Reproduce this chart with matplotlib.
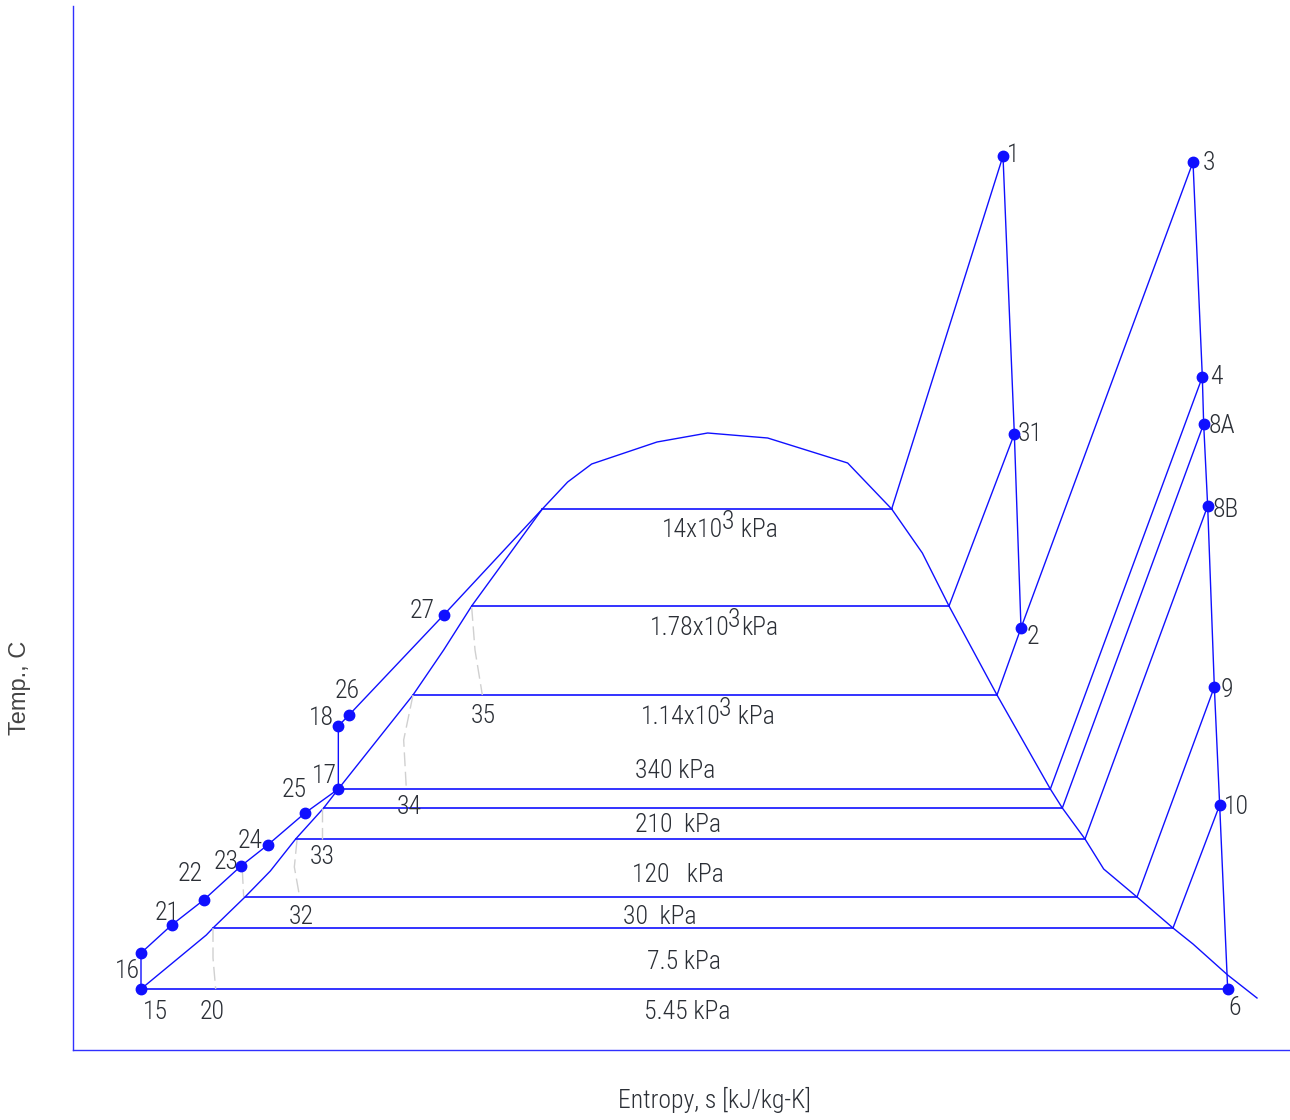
import numpy as np
import matplotlib
matplotlib.use("Agg")
from matplotlib import pyplot as plt
from matplotlib import font_manager

# узкий шрифт для подписей, если есть
names = {f.name for f in font_manager.fontManager.ttflist}
narrow = 'DejaVu Sans'
for cand in ['Roboto Condensed', 'Open Sans Condensed', 'Liberation Sans Narrow']:
    if cand in names:
        narrow = cand
        break

plt.rcParams['font.family'] = [narrow, 'DejaVu Sans']
plt.rcParams['font.weight'] = 'light'

# %%
# линия насыщения (купол), s [kJ/kg-K], T [C]
domeS = [0.51, 1.0, 1.05, 1.29, 1.48, 1.67, 1.88, 1.99, 2.55, 2.78, 2.99, 3.52, 3.71,
         3.89, 4.38, 4.76, 5.21, 5.81, 6.14, 6.37, 6.57, 6.93, 7.33, 7.42, 7.59, 7.73,
         7.98, 8.25, 8.40, 8.66, 8.88]
domeT = [36.6, 69, 73.2, 91.8, 107.4, 126.6, 145.2, 156.6, 213, 240, 266.4, 324.6, 340.8,
         351.6, 364.8, 370.2, 367.2, 352.2, 324.6, 298.2, 266.4, 213, 156.6, 145.2, 126.6, 108.6,
         91.8, 73.2, 63.6, 45, 31.2]

# изобары внутри купола
pT = [324.6, 266.4, 213, 156.6, 145.2, 126.6, 91.8, 73.2, 36.6]
pSf = [3.52, 2.99, 2.55, 1.99, 1.88, 1.67, 1.29, 1.05, 0.51]
pSg = [6.14, 6.57, 6.93, 7.33, 7.42, 7.59, 7.98, 8.25, 8.66]

# подписи высоких давлений: основание, степень, единицы
hiBase = ['14x10', '1.78x10', '1.14x10']
hiExp = ['3', '3', '3']
hiUnit = [' kPa', 'kPa', ' kPa']
hiTextS = [4.42, 4.33, 4.26]
hiTextT = [312, 253.2, 199.8]

loLabels = ['340 kPa', '210  kPa', '120   kPa', '30  kPa', '7.5 kPa', '5.45 kPa']
loTextS = [4.52, 4.54, 4.54, 4.40, 4.58, 4.61]
loTextT = [167.4, 135, 105, 79.8, 52.8, 22.8]

# точки цикла
pts = {
    '1': (6.975, 536.4), '3': (8.40, 532.8), '31': (7.06, 369.6), '2': (7.11, 253.2),
    '4': (8.47, 403.8), '8A': (8.48, 375.6), '8B': (8.51, 326.4), '9': (8.56, 217.8),
    '10': (8.60, 147), '6': (8.66, 36.6), '15': (0.51, 36.6), '16': (0.51, 58.2),
    '21': (0.74, 75), '22': (0.98, 90), '23': (1.26, 110.4), '24': (1.46, 123),
    '25': (1.74, 142.2), '17': (1.99, 156.6), '18': (1.99, 194.4), '26': (2.07, 201),
    '27': (2.78, 261),
}
# сдвиг подписи от точки, пиксели
offs = {
    '1': (10, 1), '3': (16, -1), '31': (16, 0), '2': (12, -9), '4': (14, 0),
    '8A': (18, -2), '8B': (18, -4), '9': (13, -3), '10': (17, -2), '6': (7, -19),
    '15': (14, -23), '16': (-14, -18), '21': (-5, 12), '22': (-14, 26), '23': (-15, 4),
    '24': (-18, 4), '25': (-11, 23), '17': (-14, 13), '18': (-17, 8), '26': (-2, 24),
    '27': (-22, 4),
}

# насосы (изоэнтропное сжатие), серые линии
pumpS = [[2.99, 3.015, 3.07], [2.55, 2.48, 2.50], [1.87, 1.87], [1.68, 1.66, 1.70],
         [1.27, 1.28], [1.05, 1.05, 1.07]]
pumpT = [[265.8, 240, 213], [213, 186, 156.6], [145.2, 126.6], [126, 109.8, 91.8],
         [108, 91.8], [73.2, 55.2, 36.6]]
pumpLabels = ['35', '34', '33', '32', '20']
pumpTextS = [3.08, 2.52, 1.87, 1.71, 1.04]
pumpTextT = [200.4, 145.8, 115.8, 79.8, 22.8]

# %%
fig = plt.figure(figsize=(12.9, 11.2), dpi=100)
ax = fig.add_axes([73/1290, 70/1120, 1217/1290, 1044/1120])
ax.set_xlim(0, 9.1275)
ax.set_ylim(0, 626.4)

blue = '#1010ff'
txt = '#2b2f36'
lw = 1.0
fs = 18.5

ax.plot(domeS, domeT, color=blue, lw=lw)
for T, s1, s2 in zip(pT, pSf, pSg):
    ax.plot([s1, s2], [T, T], color=blue, lw=lw * 1.2)

for b, e, u, s, T in zip(hiBase, hiExp, hiUnit, hiTextS, hiTextT):
    t1 = ax.text(s, T, b, ha='left', va='center', fontsize=fs, color=txt)
    t2 = ax.annotate(e, xy=(1, 1), xycoords=t1, xytext=(-2, 8), textcoords='offset pixels',
                     ha='left', va='top', fontsize=fs, color=txt)
    ax.annotate(u, xy=(1, 0.5), xycoords=(t2, t1), xytext=(1, 0), textcoords='offset pixels',
                ha='left', va='center', fontsize=fs, color=txt)
for lab, s, T in zip(loLabels, loTextS, loTextT):
    ax.text(s, T, lab, ha='center', va='center', fontsize=fs, color=txt)

for ss, tt in zip(pumpS, pumpT):
    ax.plot(ss, tt, color='#d0d0d0', lw=1.0, ls=(0, (10, 4)))
for lab, s, T in zip(pumpLabels, pumpTextS, pumpTextT):
    ax.text(s, T, lab, ha='center', va='center', fontsize=fs, color=txt)


def seg(*keys):
    xs = [pts[k][0] if isinstance(k, str) else k[0] for k in keys]
    ys = [pts[k][1] if isinstance(k, str) else k[1] for k in keys]
    ax.plot(xs, ys, color=blue, lw=lw)


seg('15', '16', '21', '22', '23', '24', '25', '17')
seg('17', '18', '26', '27', (pSf[0], pT[0]))
seg((pSg[0], pT[0]), '1', '31', '2')
seg('31', (pSg[1], pT[1]))
seg('2', (pSg[2], pT[2]))
seg('2', '3', '4', '8A', '8B', '9', '10', '6')
seg('4', (pSg[3], pT[3]))
seg('8A', (pSg[4], pT[4]))
seg('8B', (pSg[5], pT[5]))
seg('9', (pSg[6], pT[6]))
seg('10', (pSg[7], pT[7]))

for k, (s, T) in pts.items():
    ax.plot(s, T, 'o', color=blue, ms=7.5, zorder=5)
    ax.annotate(k, (s, T), xytext=offs[k], textcoords='offset pixels',
                ha='center', va='center', fontsize=fs, color=txt)

for side in ['top', 'right']:
    ax.spines[side].set_visible(False)
for side in ['left', 'bottom']:
    ax.spines[side].set_color('#3030ff')
    ax.spines[side].set_linewidth(1.0)
ax.set_xticks([])
ax.set_yticks([])

fig.text(715/1290, 1 - 1100/1120, 'Entropy, s [kJ/kg-K]', ha='center', va='center',
         fontsize=fs, color=txt)
fig.text(20/1290, 1 - 688/1120, 'Temp., C', ha='center', va='center', rotation=90,
         fontsize=17, color='#444444', family=['Liberation Sans', 'DejaVu Sans'],
         weight='normal')

fig.savefig('out.png', dpi=100)
